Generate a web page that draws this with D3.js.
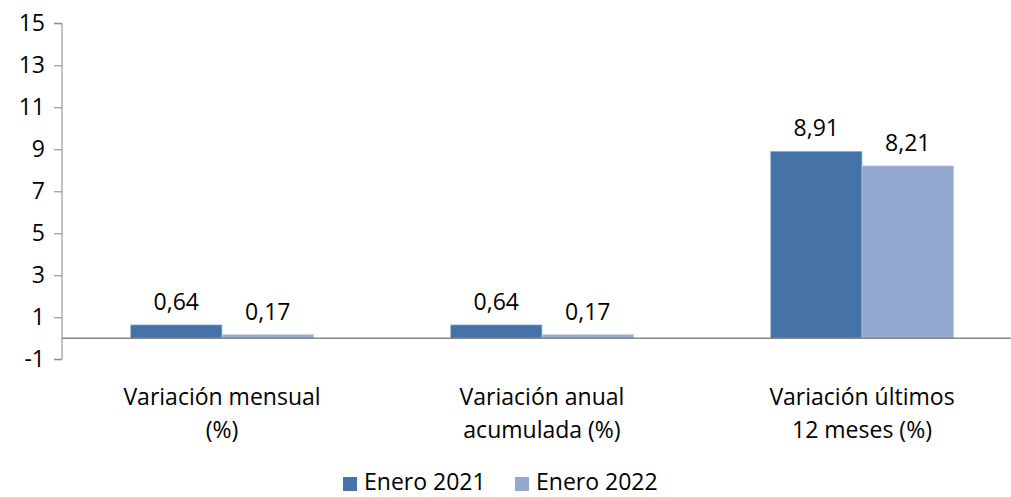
<!DOCTYPE html>
<html>
<head>
<meta charset="utf-8">
<script src="https://cdn.jsdelivr.net/npm/d3@7"></script>
<style>
  body { margin: 0; background: #fff; }
  text { font-family: "Open Sans", "Noto Sans", sans-serif; fill: #000; }
</style>
</head>
<body>
<div id="chart"></div>
<script>
const categories = [['Variación mensual', '(%)'], ['Variación anual', 'acumulada (%)'], ['Variación últimos', '12 meses (%)']];
const seriesNames = ['Enero 2021', 'Enero 2022'];
const enero2021 = [0.64, 0.64, 8.91];
const enero2022 = [0.17, 0.17, 8.21];
const yTicks = [-1, 1, 3, 5, 7, 9, 11, 13, 15];
const colors = ['#4573a7', '#94a9d0'];
const fontSize = '23px';

const width = 1011, height = 497;
const svg = d3.select('#chart').append('svg').attr('width', width).attr('height', height);

const x = d3.scaleBand().domain(d3.range(categories.length)).range([62, 1022]);
const y = d3.scaleLinear().domain([-1, 15]).range([359.3, 23.3]);
const sub = d3.scaleBand().domain([0, 1]).range([0, 183]);
const fmt = (v) => v.toFixed(2).replace('.', ',');

// Y axis
const yAxis = svg.append('g')
  .attr('transform', 'translate(62,0)')
  .call(d3.axisLeft(y).tickValues(yTicks).tickSize(8).tickPadding(9).tickFormat((d) => String(d)));
yAxis.selectAll('line, path').attr('stroke', '#868686');
yAxis.select('.domain').attr('d', `M-8,${y(15)}H0V${y(-1)}H-8`);
yAxis.selectAll('text').attr('font-size', fontSize).attr('fill', '#000')
  .style('font-family', '"Open Sans", "Noto Sans", sans-serif');

// Bars
const data = categories.map((c, i) => [enero2021[i], enero2022[i]]);
const groups = svg.append('g').selectAll('g').data(data).join('g')
  .attr('transform', (d, i) => `translate(${x(i) + (x.bandwidth() - 183) / 2},0)`);

groups.selectAll('rect').data((d) => d).join('rect')
  .attr('x', (d, j) => sub(j))
  .attr('y', (d) => y(d))
  .attr('width', sub.bandwidth())
  .attr('height', (d) => y(0) - y(d))
  .attr('fill', (d, j) => colors[j])
  .attr('stroke', '#b9c9e0')
  .attr('stroke-width', 0.6);

groups.selectAll('text').data((d) => d).join('text')
  .attr('x', (d, j) => sub(j) + sub.bandwidth() / 2)
  .attr('y', (d) => y(d) - 15)
  .attr('text-anchor', 'middle')
  .attr('font-size', fontSize)
  .text(fmt);

// Zero line
svg.append('line')
  .attr('x1', 62).attr('x2', 1022)
  .attr('y1', y(0)).attr('y2', y(0))
  .attr('stroke', '#868686').attr('stroke-width', 1.5);

// Category labels
categories.forEach((lines, i) => {
  const cx = x(i) + x.bandwidth() / 2;
  const t = svg.append('text')
    .attr('x', cx)
    .attr('y', 405)
    .attr('text-anchor', 'middle')
    .attr('font-size', fontSize);
  lines.forEach((ln, k) => t.append('tspan').attr('x', cx).attr('dy', k ? 33 : 0).text(ln));
});

// Legend
const legendX = [343, 515];
seriesNames.forEach((name, j) => {
  svg.append('rect').attr('x', legendX[j]).attr('y', 477).attr('width', 14).attr('height', 14).attr('fill', colors[j]);
  svg.append('text').attr('x', legendX[j] + 21).attr('y', 490).attr('font-size', fontSize).text(name);
});
</script>
</body>
</html>
